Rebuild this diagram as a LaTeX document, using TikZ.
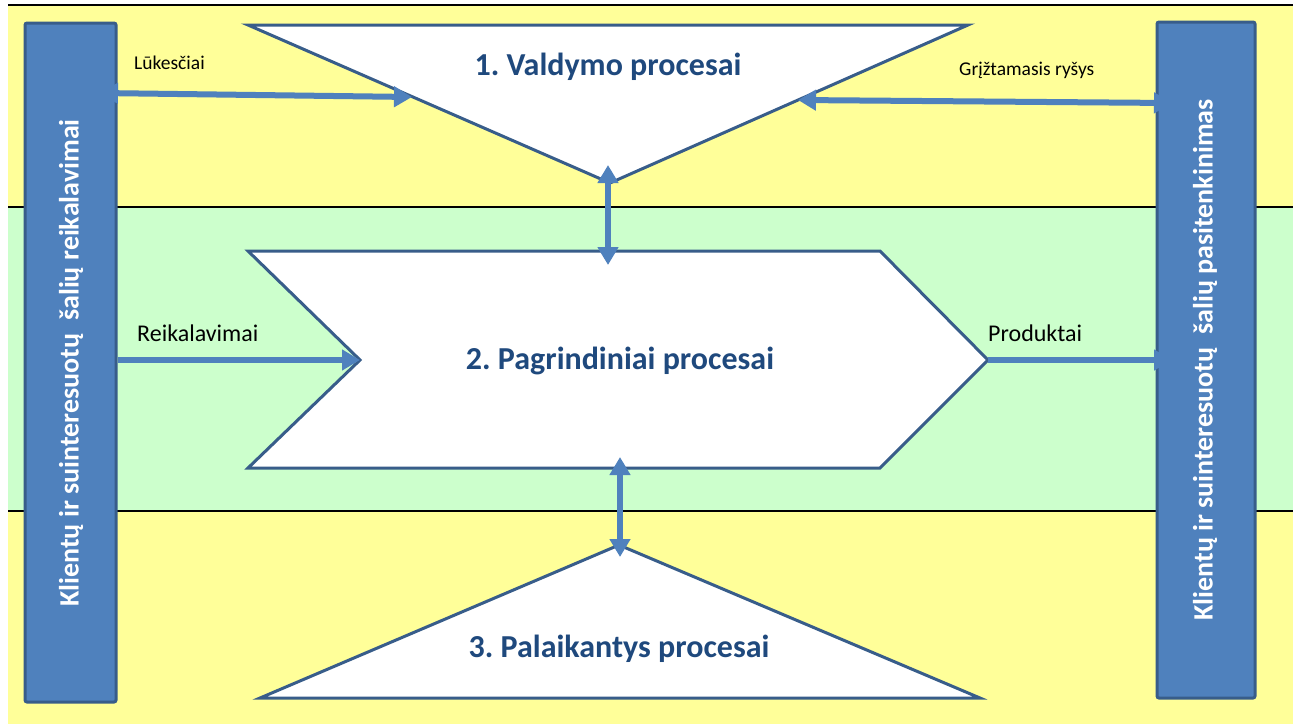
\documentclass[tikz,border=0pt]{standalone}
\usepackage{fontspec}
\setmainfont{Carlito}
\frenchspacing
\usetikzlibrary{arrows.meta,positioning,calc}
\definecolor{bandYellow}{RGB}{255,255,153}
\definecolor{bandGreen}{RGB}{204,255,204}
\definecolor{barBlue}{RGB}{79,129,189}
\definecolor{barEdge}{RGB}{56,93,138}
\definecolor{titleBlue}{RGB}{31,73,125}

\begin{document}
\begin{tikzpicture}[
	x=1pt, y=-1pt,
	>={Triangle[length=18pt,width=20pt]},
	band/.style={draw=black, line width=1.2pt},
	bar/.style={
		draw=barEdge, fill=barBlue, line width=3pt, rounded corners=2pt,
		minimum width=91pt, minimum height=679pt, inner sep=0pt
	},
	bartext/.style={text=white, font=\bfseries\fontsize{28}{32}\selectfont, rotate=90, inner sep=0pt},
	proc/.style={draw=barEdge, fill=white, line width=3pt, line join=miter},
	ttl/.style={text=titleBlue, font=\bfseries\fontsize{32}{36}\selectfont, inner sep=0pt},
	lbl/.style={font=\fontsize{19.5}{22}\selectfont, inner sep=0pt, anchor=west},
	lblbig/.style={font=\fontsize{24}{28}\selectfont, inner sep=0pt, anchor=west},
	flow/.style={barBlue, line width=6pt}
	]
	% page and bands
	\useasboundingbox (0,0) rectangle (1298,724);
	\fill[white] (0,0) rectangle (1298,724);
	\fill[bandYellow] (8,5) rectangle (1293,207);
	\fill[bandGreen] (8,207) rectangle (1293,511);
	\fill[bandYellow] (8,511) rectangle (1293,724);
	\foreach \yy in {5,207,511}
	\draw[band] (8,\yy) -- (1293,\yy);

	% stakeholder bars
	\node[bar] (lbar) at (70.5,362.5) {};
	\node[bar, minimum width=98pt, minimum height=676pt] (rbar) at (1206,360) {};
	\node[bartext] (ltext) at (71,363) {Klientų ir suinteresuotų\ \ šalių reikalavimai};
	\node[bartext] (rtext) at (1205,360) {Klientų ir suinteresuotų\ \ šalių pasitenkinimas};

	% process shapes
	\draw[proc] (248,25) coordinate (v1) -- (968,25) coordinate (v2)
		-- (610,183) coordinate (v3) -- cycle;
	\draw[proc] (248,251) -- (880,251) coordinate (ch-top) -- (988,360) coordinate (tip)
		-- (880,468) -- (248,468) coordinate (ch-bot) -- (360,360) coordinate (notch) -- cycle;
	\draw[proc] (619,545) coordinate (apex) -- (980,698) -- (260,698) -- cycle;

	\node[ttl] (t1) at (608,67) {1. Valdymo procesai};
	\node[ttl] (t2) at (620,361) {2. Pagrindiniai procesai};
	\node[ttl] (t3) at (619,649) {3. Palaikantys procesai};

	% flow labels
	\node[lbl] (lk) at (134,63) {Lūkesčiai};
	\node[lbl] (gr) at (959,70) {Grįžtamasis ryšys};
	\node[lblbig] (rk) at (137,333) {Reikalavimai};
	\node[lblbig] (pr) at (988,333) {Produktai};

	% flow ends
	\coordinate (lk-a) at (100,93);
	\coordinate (lk-b) at (412,97);
	\coordinate (gr-a) at (798,100);
	\coordinate (gr-b) at (1172,103);
	\coordinate (up-a) at (608,165);
	\coordinate (up-b) at (608,265);
	\coordinate (dn-a) at (620,457);
	\coordinate (dn-b) at (620,557);
	\coordinate (rq-a) at (lbar.east |- notch);
	\coordinate (pr-b) at (1172,360);

	\foreach \a/\b in {lk-a/lk-b,gr-a/gr-b,up-a/up-b,dn-a/dn-b}
	\draw[flow,<->] (\a) -- (\b);
	\foreach \a/\b in {rq-a/notch,tip/pr-b}
	\draw[flow,->] (\a) -- (\b);
\end{tikzpicture}
\end{document}
